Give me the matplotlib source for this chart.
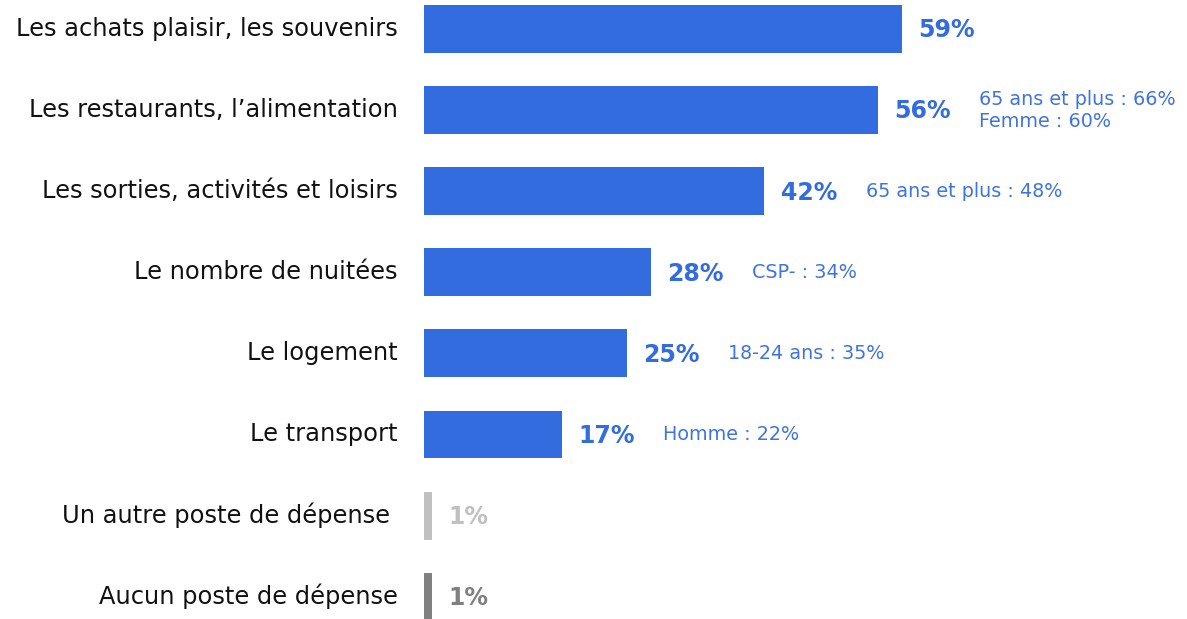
import matplotlib.pyplot as plt

# --- DATA ---
categories = [
    "Les achats plaisir, les souvenirs",
    "Les restaurants, l\u2019alimentation",
    "Les sorties, activités et loisirs",
    "Le nombre de nuitées",
    "Le logement",
    "Le transport",
    "Un autre poste de dépense ",
    "Aucun poste de dépense",
]
values = [59, 56, 42, 28, 25, 17, 1, 1]
details = [
    "",
    "65 ans et plus : 66%\nFemme : 60%",
    "65 ans et plus : 48%",
    "CSP- : 34%",
    "18-24 ans : 35%",
    "Homme : 22%",
    "",
    "",
]

BLUE = "#336CDF"
colors = [BLUE] * 6 + ["#C0C0C0", "#808080"]

plt.rcParams['font.family'] = ['DejaVu Sans']

fig = plt.figure(figsize=(11.87, 6.19), dpi=100)
ax = fig.add_axes([424 / 1187, 0, 1 - 424 / 1187, 1])

y = list(range(len(categories)))
ax.barh(y, values, height=0.59, color=colors)

ax.set_xlim(0, 763 / 8.1)
ax.set_ylim(590 / 81.1, -29 / 81.1)
ax.axis('off')

for i, (cat, v, d, c) in enumerate(zip(categories, values, details, colors)):
    # category label on the left
    ax.annotate(cat, xy=(0, i), xytext=(-19, 0), textcoords='offset points',
                ha='right', va='center', fontsize=17.4, color='#111111')
    # value label
    ax.annotate(f"{v}%", xy=(v, i), xytext=(12, -1), textcoords='offset points',
                ha='left', va='center', fontsize=17, fontweight='bold', color=c)
    # subgroup detail
    if d:
        ax.annotate(d, xy=(v, i), xytext=(73, 0), textcoords='offset points',
                    ha='left', va='center', fontsize=13.8, color='#3F74E0',
                    linespacing=1.2)

fig.savefig("out.png", dpi=100)
